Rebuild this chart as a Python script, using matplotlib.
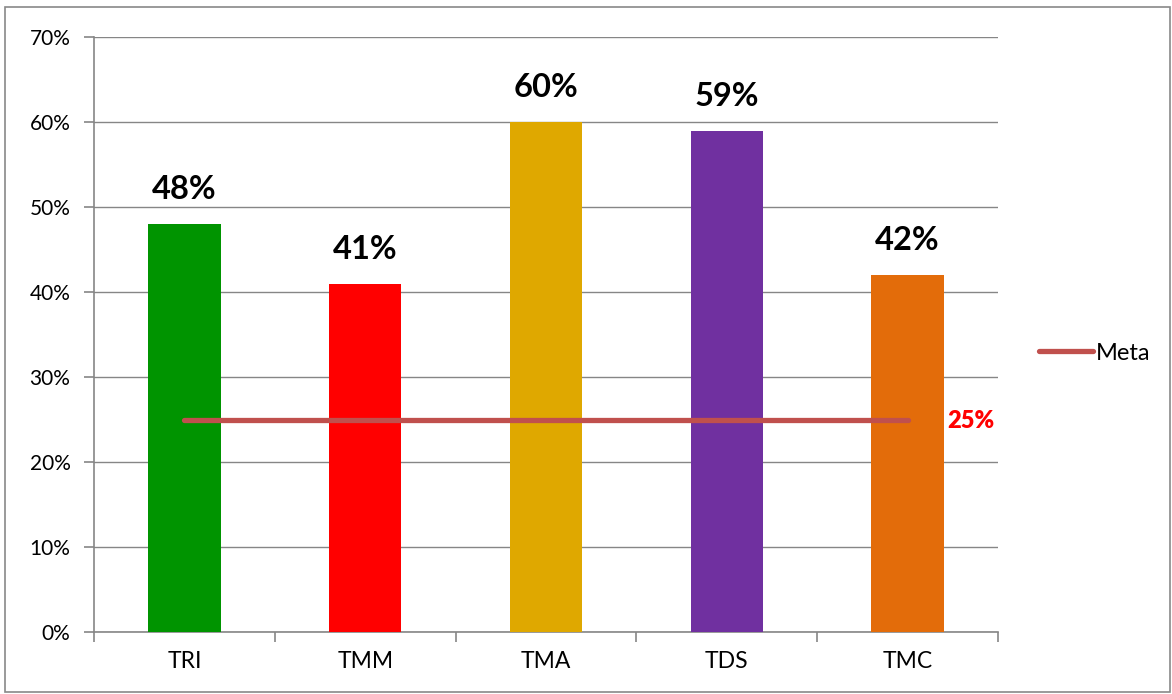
import matplotlib
matplotlib.use("Agg")
import matplotlib.pyplot as plt
from matplotlib.patches import Rectangle
from matplotlib.lines import Line2D

categories = ["TRI", "TMM", "TMA", "TDS", "TMC"]
values = [48, 41, 60, 59, 42]
colors = ["#009400", "#FF0000", "#DFA800", "#7030A0", "#E36C0A"]
meta = [25, 25, 25, 25, 25]
meta_label = "25%"
yticks = [0, 10, 20, 30, 40, 50, 60, 70]

plt.rcParams['font.family'] = ['Lato', 'DejaVu Sans']

W, H = 1172, 694
fig = plt.figure(figsize=(W/100, H/100), dpi=100)
ax = fig.add_axes([94/W, 1-632/H, (998-94)/W, (632-37)/H])

x = list(range(len(categories)))
ax.bar(x, values, width=0.4, color=colors, zorder=3)
for xi, v in zip(x, values):
    ax.text(xi, v + 2.3, f"{v}%", ha='center', va='bottom', fontsize=23.5,
            fontweight='bold', color='black', zorder=5)

ax.plot(x, meta, color="#C0504D", linewidth=3.8, solid_capstyle='round', zorder=4)
ax.text(x[-1] + 0.22, meta[-1] - 0.2, meta_label, color='#FF0000', fontsize=17,
        fontweight='heavy', ha='left', va='center')

ax.set_xlim(-0.5, len(categories) - 0.5)
ax.set_ylim(0, 70)
ax.set_yticks(yticks)
ax.set_yticklabels([f"{t}%" for t in yticks], fontsize=15)
ax.set_xticks(x)
ax.set_xticklabels(categories, fontsize=16.5)
ax.set_xticks([i - 0.5 for i in range(len(categories) + 1)], minor=True)
ax.tick_params(axis='x', which='major', length=0, pad=14)
ax.tick_params(axis='x', which='minor', length=7, color='#868686', width=1.2, direction='out')
ax.tick_params(axis='y', length=7, color='#868686', width=1.2, pad=10)

ax.yaxis.grid(True, color='#868686', linewidth=1.0, zorder=0)
ax.set_axisbelow(True)
for s in ['top', 'right']:
    ax.spines[s].set_visible(False)
for s in ['left', 'bottom']:
    ax.spines[s].set_color('#868686')
    ax.spines[s].set_linewidth(1.2)

handle = Line2D([0], [0], color="#C0504D", linewidth=3.8, solid_capstyle='round')
fig.legend([handle], ["Meta"], loc='center left', bbox_to_anchor=(1039/W, 1-353/H),
           frameon=False, fontsize=17, handlelength=2.3, handletextpad=0.1,
           borderaxespad=0, borderpad=0)

fig.patches.append(Rectangle((5/W, 2/H), (W-7)/W, (H-9)/H, transform=fig.transFigure,
                             fill=False, edgecolor='#898989', linewidth=1.2))

fig.savefig("out.png", dpi=100)
